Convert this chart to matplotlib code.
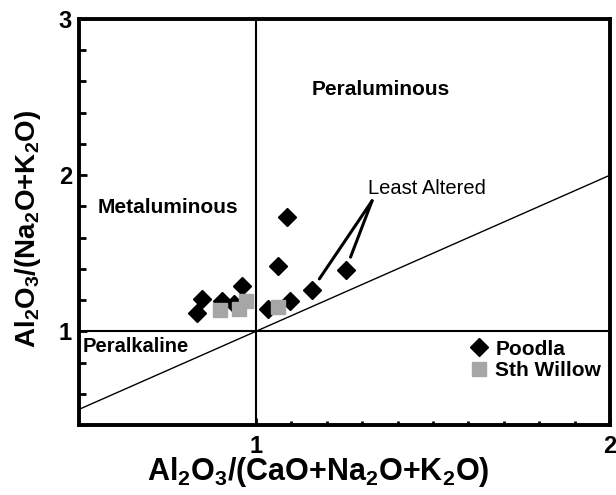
import matplotlib
matplotlib.use('Agg')
from matplotlib import pyplot as plt
from matplotlib.ticker import MultipleLocator, FixedLocator

plt.rcParams['font.family'] = ['Liberation Sans', 'DejaVu Sans']
plt.rcParams['mathtext.fontset'] = 'custom'
plt.rcParams['mathtext.rm'] = 'Liberation Sans:bold'
plt.rcParams['mathtext.it'] = 'Liberation Sans:bold'
plt.rcParams['mathtext.bf'] = 'Liberation Sans:bold'

# A/CNK (x) and A/NK (y) values
poodla_x = [0.832, 0.848, 0.903, 0.938, 0.960, 1.035, 1.063, 1.087, 1.096, 1.157, 1.253]
poodla_y = [1.118, 1.204, 1.193, 1.174, 1.289, 1.140, 1.418, 1.729, 1.193, 1.262, 1.392]
willow_x = [0.897, 0.951, 0.973, 1.063]
willow_y = [1.137, 1.141, 1.197, 1.154]
least_altered = [9, 10]  # indices into Poodla

x_range = [0.5, 2.0]
y_range = [0.4, 3.0]
x_minor = [1.1, 1.2, 1.3, 1.4, 1.5, 1.6, 1.7, 1.8, 1.9]

fig = plt.figure(figsize=(6.16, 4.95), dpi=100)
ax = fig.add_axes([0.1282, 0.1414, 0.8621, 0.8202])

# field boundaries
ax.axvline(1.0, color='black', lw=1.5, zorder=1)
ax.axhline(1.0, color='black', lw=1.5, zorder=1)
ax.plot(x_range, x_range, color='black', lw=1.0, zorder=1)

ax.plot(poodla_x, poodla_y, linestyle='none', marker='D', ms=9.5,
        color='black', label='Poodla', zorder=3)
ax.plot(willow_x, willow_y, linestyle='none', marker='s', ms=9.5,
        color='#a6a6a6', label='Sth Willow', zorder=4)

ax.text(1.353, 2.55, 'Peraluminous', fontsize=15, fontweight='bold', ha='center', va='center')
ax.text(0.751, 1.79, 'Metaluminous', fontsize=15, fontweight='bold', ha='center', va='center')
ax.text(0.660, 0.905, 'Peralkaline', fontsize=14.5, fontweight='bold', ha='center', va='center')
ax.text(1.482, 1.916, 'Least Altered', fontsize=14.5, ha='center', va='center')

for i in least_altered:
    ax.annotate('', xy=(poodla_x[i], poodla_y[i]), xytext=(1.328, 1.836),
                arrowprops=dict(arrowstyle='-', lw=2.2, color='black',
                                shrinkA=0, shrinkB=10))

ax.set_xlim(x_range)
ax.set_ylim(y_range)
ax.xaxis.set_major_locator(FixedLocator([1, 2]))
ax.xaxis.set_minor_locator(FixedLocator(x_minor))
ax.yaxis.set_major_locator(FixedLocator([1, 2, 3]))
ax.yaxis.set_minor_locator(MultipleLocator(0.2))
ax.tick_params(axis='both', which='both', direction='in', top=False, right=False,
               width=2, labelsize=17)
ax.tick_params(axis='x', which='major', length=5, pad=7)
ax.tick_params(axis='x', which='minor', length=3)
ax.tick_params(axis='y', which='major', length=6, pad=5)
ax.tick_params(axis='y', which='minor', length=5)
for lbl in ax.get_xticklabels() + ax.get_yticklabels():
    lbl.set_fontweight('bold')
for sp in ax.spines.values():
    sp.set_linewidth(2.8)

ax.set_xlabel(r'Al$_2$O$_3$/(CaO+Na$_2$O+K$_2$O)', fontsize=22, fontweight='bold')
ax.set_ylabel(r'Al$_2$O$_3$/(Na$_2$O+K$_2$O)', fontsize=20, fontweight='bold')
ax.xaxis.set_label_coords(0.45, -0.075)
ax.yaxis.set_label_coords(-0.067, 0.482)

ax.legend(loc='upper left', bbox_to_anchor=(0.733, 0.21), frameon=False,
          borderpad=0, borderaxespad=0, handlelength=1.0, handletextpad=0.3,
          labelspacing=0.1, prop={'size': 15, 'weight': 'bold'})

fig.savefig('out.png', dpi=100)
